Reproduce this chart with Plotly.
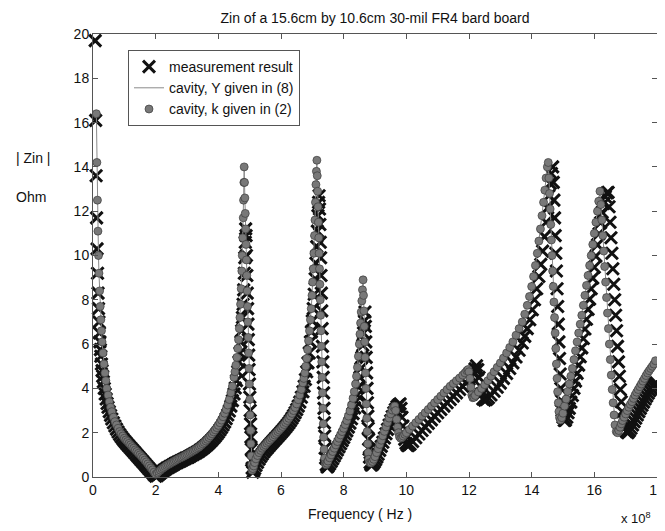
import plotly.graph_objects as go

# Frequency in units of 1e8 Hz, |Zin| in Ohm
meas_points = [
(0.07,19.7),(0.085,16.1),(0.1,13.6),(0.115,11.7),(0.13,10.3),(0.145,9.2),(0.16,8.3),(0.175,7.6),(0.19,7.0),(0.205,6.5),(0.22,6.1),(0.235,5.75),(0.25,5.45),(0.27,5.1),(0.29,4.8),(0.31,4.55),(0.33,4.3),(0.36,4.0),(0.39,3.75),(0.42,3.52),(0.45,3.32),(0.48,3.15),(0.52,2.95),(0.56,2.78),(0.6,2.62),(0.65,2.45),(0.7,2.3),(0.75,2.16),(0.8,2.03),(0.85,1.92),(0.9,1.82),(0.95,1.72),(1.0,1.63),(1.05,1.55),(1.1,1.47),(1.15,1.39),(1.2,1.31),(1.25,1.23),(1.3,1.15),(1.35,1.07),(1.4,0.99),(1.45,0.91),(1.5,0.83),(1.55,0.75),(1.6,0.67),(1.65,0.59),(1.7,0.51),(1.75,0.43),(1.8,0.35),(1.85,0.27),(1.9,0.19),(1.95,0.1),(2.0,0.04),
(2.05,0.06),(2.1,0.12),(2.15,0.18),(2.2,0.24),(2.25,0.29),(2.3,0.34),(2.35,0.39),(2.4,0.43),(2.45,0.47),(2.5,0.51),(2.55,0.55),(2.6,0.59),(2.65,0.63),(2.7,0.66),(2.75,0.7),(2.8,0.73),(2.85,0.77),(2.9,0.8),(2.95,0.84),(3.0,0.87),(3.05,0.9),(3.1,0.94),(3.15,0.98),(3.2,1.02),(3.25,1.06),(3.3,1.1),(3.35,1.14),(3.4,1.19),(3.45,1.24),(3.5,1.29),(3.55,1.35),(3.6,1.41),(3.65,1.47),(3.7,1.54),(3.75,1.61),(3.8,1.68),(3.85,1.76),(3.9,1.84),(3.95,1.93),(4.0,2.02),(4.05,2.12),(4.1,2.23),(4.15,2.35),(4.2,2.48),(4.25,2.63),(4.3,2.8),(4.35,2.98),(4.4,3.2),(4.45,3.45),(4.5,3.75),(4.54,4.02),(4.58,4.35),(4.62,4.75),(4.66,5.2),(4.69,5.6),(4.72,6.1),(4.745,6.6),(4.77,7.2),(4.79,7.8),(4.81,8.45),(4.83,9.2),(4.845,9.9),(4.86,10.6),(4.872,11.2),
(4.885,10.9),(4.897,10.0),(4.909,9.1),(4.921,8.3),(4.933,7.6),(4.945,6.9),(4.957,6.2),(4.969,5.5),(4.981,4.85),(4.993,4.2),(5.005,3.6),(5.017,3.0),(5.029,2.4),(5.041,1.8),(5.053,1.25),(5.065,0.75),(5.08,0.4),(5.1,0.22),(5.13,0.28),
(5.16,0.38),(5.2,0.52),(5.25,0.66),(5.3,0.8),(5.35,0.92),(5.4,1.03),(5.45,1.13),(5.5,1.22),(5.55,1.3),(5.6,1.38),(5.65,1.46),(5.7,1.54),(5.75,1.62),(5.8,1.7),(5.85,1.77),(5.9,1.85),(5.95,1.93),(6.0,2.01),(6.05,2.09),(6.1,2.17),(6.15,2.26),(6.2,2.35),(6.25,2.44),(6.3,2.54),(6.35,2.65),(6.4,2.77),(6.45,2.9),(6.5,3.04),(6.55,3.2),(6.6,3.38),(6.65,3.6),(6.7,3.85),(6.74,4.1),(6.78,4.4),(6.82,4.75),(6.86,5.15),(6.9,5.6),(6.94,6.1),(6.97,6.55),(7.0,7.05),(7.03,7.6),(7.06,8.25),(7.09,8.95),(7.115,9.65),(7.14,10.4),(7.16,11.1),(7.18,11.8),(7.2,12.4),(7.215,12.7),
(7.228,12.1),(7.24,11.4),(7.252,10.6),(7.264,9.9),(7.276,9.1),(7.288,8.3),(7.3,7.5),(7.312,6.7),(7.324,5.9),(7.336,5.2),(7.348,4.5),(7.36,3.8),(7.372,3.1),(7.384,2.45),(7.396,1.85),(7.41,1.3),(7.425,0.85),(7.445,0.55),(7.47,0.45),(7.5,0.48),
(7.55,0.58),(7.6,0.7),(7.65,0.82),(7.7,0.95),(7.75,1.08),(7.8,1.22),(7.85,1.36),(7.9,1.5),(7.95,1.64),(8.0,1.78),(8.05,1.93),(8.1,2.08),(8.15,2.25),(8.2,2.43),(8.25,2.63),(8.3,2.86),(8.35,3.12),(8.4,3.42),(8.44,3.7),(8.48,4.05),(8.52,4.5),(8.55,4.9),(8.58,5.4),(8.61,5.95),(8.635,6.5),(8.66,7.05),(8.68,7.45),
(8.693,6.8),(8.706,6.1),(8.719,5.4),(8.732,4.7),(8.745,4.0),(8.758,3.35),(8.771,2.75),(8.784,2.2),(8.797,1.7),(8.81,1.25),(8.825,0.9),(8.845,0.65),(8.87,0.55),(8.9,0.55),
(8.94,0.6),(8.98,0.68),(9.02,0.78),(9.06,0.9),(9.1,1.03),(9.15,1.2),(9.2,1.38),(9.25,1.57),(9.3,1.76),(9.35,1.95),(9.4,2.15),(9.45,2.35),(9.5,2.54),(9.55,2.73),(9.6,2.9),(9.65,3.05),(9.7,3.17),(9.75,3.25),(9.8,3.3),(9.83,3.1),(9.86,2.7),(9.89,2.3),(9.92,1.95),(9.95,1.7),(9.99,1.52),(10.03,1.43),(10.07,1.42),(10.12,1.48),(10.2,1.6),(10.3,1.77),(10.4,1.94),(10.5,2.1),(10.6,2.26),(10.7,2.42),(10.8,2.58),(10.9,2.74),(11.0,2.9),(11.1,3.05),(11.2,3.2),(11.3,3.35),(11.4,3.5),(11.5,3.65),(11.6,3.8),(11.7,3.95),(11.8,4.1),(11.9,4.25),(12.0,4.4),(12.07,4.55),(12.13,4.7),(12.19,4.88),(12.24,5.02),(12.28,4.85),(12.32,4.5),(12.36,4.1),(12.4,3.75),(12.44,3.52),(12.5,3.47),(12.56,3.5),(12.62,3.58),(12.7,3.7),(12.8,3.87),(12.9,4.05),(13.0,4.24),(13.1,4.45),(13.2,4.67),(13.3,4.9),(13.4,5.15),(13.5,5.42),(13.6,5.72),(13.7,6.05),(13.78,6.35),(13.86,6.7),(13.94,7.1),(14.02,7.55),(14.09,8.0),(14.16,8.5),(14.23,9.05),(14.29,9.6),(14.35,10.2),(14.41,10.85),(14.46,11.5),(14.51,12.15),(14.55,12.7),(14.59,13.25),(14.63,13.7),(14.67,14.0),
(14.69,13.3),(14.71,12.5),(14.73,11.7),(14.75,10.9),(14.77,10.1),(14.79,9.3),(14.81,8.5),(14.83,7.7),(14.85,6.9),(14.87,6.1),(14.89,5.35),(14.91,4.65),(14.93,4.0),(14.95,3.45),(14.97,3.0),(15.0,2.7),(15.04,2.55),(15.08,2.57),
(15.12,2.7),(15.16,2.9),(15.2,3.1),(15.25,3.38),(15.3,3.68),(15.35,4.0),(15.4,4.33),(15.45,4.68),(15.5,5.05),(15.55,5.43),(15.6,5.83),(15.65,6.25),(15.7,6.68),(15.75,7.12),(15.8,7.57),(15.85,8.03),(15.9,8.5),(15.95,8.98),(16.0,9.47),(16.05,9.97),(16.1,10.48),(16.15,10.98),(16.2,11.48),(16.25,11.95),(16.3,12.35),(16.35,12.65),(16.4,12.82),(16.44,12.85),
(16.47,12.2),(16.5,11.5),(16.53,10.8),(16.56,10.1),(16.59,9.4),(16.62,8.7),(16.65,8.0),(16.68,7.3),(16.71,6.6),(16.74,5.9),(16.77,5.2),(16.8,4.55),(16.83,3.95),(16.86,3.4),(16.89,2.95),(16.93,2.55),(16.97,2.25),(17.02,2.05),(17.07,2.0),
(17.12,2.08),(17.17,2.2),(17.22,2.35),(17.27,2.5),(17.32,2.65),(17.37,2.8),(17.42,2.95),(17.47,3.1),(17.52,3.24),(17.57,3.38),(17.62,3.52),(17.67,3.65),(17.72,3.78),(17.77,3.9),(17.82,4.0),(17.87,4.1),(17.92,4.18),(17.97,4.25),
]

cav_k_points = [
(0.107,16.4),(0.124,14.2),(0.141,12.5),(0.158,11.1),(0.175,10.0),(0.19,9.2),(0.21,8.4),(0.23,7.7),(0.25,7.1),(0.27,6.6),(0.29,6.1),(0.32,5.6),(0.35,5.1),(0.38,4.7),(0.41,4.35),(0.44,4.0),(0.48,3.7),(0.52,3.4),(0.56,3.15),(0.6,2.95),(0.65,2.7),(0.7,2.5),(0.75,2.35),(0.8,2.2),(0.85,2.05),(0.9,1.95),(0.95,1.85),(1.0,1.75),(1.05,1.67),(1.1,1.6),(1.15,1.52),(1.2,1.45),(1.25,1.37),(1.3,1.3),(1.35,1.22),(1.4,1.15),(1.45,1.07),(1.5,1.0),(1.55,0.92),(1.6,0.85),(1.65,0.76),(1.7,0.68),(1.75,0.59),(1.8,0.5),(1.85,0.41),(1.9,0.32),(1.95,0.22),(2.0,0.12),
(2.05,0.18),(2.1,0.25),(2.15,0.31),(2.2,0.37),(2.25,0.42),(2.3,0.47),(2.35,0.52),(2.4,0.56),(2.45,0.6),(2.5,0.64),(2.55,0.68),(2.6,0.72),(2.65,0.76),(2.7,0.8),(2.75,0.84),(2.8,0.87),(2.85,0.9),(2.9,0.94),(2.95,0.98),(3.0,1.02),(3.05,1.06),(3.1,1.1),(3.15,1.14),(3.2,1.18),(3.25,1.22),(3.3,1.27),(3.35,1.32),(3.4,1.37),(3.45,1.43),(3.5,1.5),(3.55,1.56),(3.6,1.63),(3.65,1.7),(3.7,1.78),(3.75,1.86),(3.8,1.95),(3.85,2.04),(3.9,2.13),(3.95,2.23),(4.0,2.33),(4.05,2.45),(4.1,2.57),(4.15,2.72),(4.2,2.88),(4.25,3.05),(4.3,3.25),(4.35,3.5),(4.4,3.8),(4.45,4.1),(4.5,4.5),(4.53,4.75),(4.56,5.05),(4.59,5.4),(4.62,5.8),(4.645,6.2),(4.67,6.7),(4.69,7.2),(4.71,7.8),(4.73,8.5),(4.75,9.3),(4.765,10.0),(4.78,10.8),(4.795,11.7),(4.805,12.5),(4.815,13.3),(4.825,14.0),
(4.835,13.3),(4.847,12.6),(4.859,11.9),(4.871,11.2),(4.883,10.5),(4.895,9.8),(4.907,9.1),(4.919,8.4),(4.931,7.7),(4.943,7.0),(4.955,6.3),(4.967,5.6),(4.979,4.9),(4.991,4.2),(5.003,3.5),(5.015,2.8),(5.027,2.1),(5.039,1.5),(5.051,0.95),(5.063,0.55),(5.075,0.3),
(5.1,0.38),(5.13,0.5),(5.16,0.65),(5.2,0.82),(5.25,0.97),(5.3,1.1),(5.35,1.2),(5.4,1.3),(5.45,1.38),(5.5,1.45),(5.55,1.53),(5.6,1.6),(5.65,1.67),(5.7,1.75),(5.75,1.82),(5.8,1.9),(5.85,1.97),(5.9,2.05),(5.95,2.12),(6.0,2.2),(6.05,2.28),(6.1,2.37),(6.15,2.46),(6.2,2.55),(6.25,2.65),(6.3,2.75),(6.35,2.87),(6.4,3.0),(6.45,3.14),(6.5,3.3),(6.55,3.49),(6.6,3.7),(6.65,3.95),(6.7,4.25),(6.73,4.45),(6.76,4.7),(6.79,5.0),(6.82,5.35),(6.85,5.75),(6.88,6.15),(6.91,6.6),(6.94,7.1),(6.965,7.6),(6.99,8.2),(7.01,8.8),(7.03,9.4),(7.05,10.1),(7.07,10.9),(7.085,11.6),(7.1,12.4),(7.115,13.2),(7.13,13.8),(7.145,14.3),
(7.157,13.6),(7.169,12.9),(7.181,12.2),(7.193,11.5),(7.205,10.8),(7.217,10.1),(7.229,9.4),(7.241,8.7),(7.253,8.0),(7.265,7.3),(7.277,6.6),(7.289,5.9),(7.301,5.2),(7.313,4.5),(7.325,3.8),(7.337,3.1),(7.349,2.4),(7.361,1.8),(7.375,1.25),(7.39,0.85),(7.41,0.6),(7.44,0.55),
(7.47,0.62),(7.5,0.72),(7.55,0.87),(7.6,1.0),(7.65,1.15),(7.7,1.3),(7.75,1.45),(7.8,1.6),(7.85,1.75),(7.9,1.9),(7.95,2.05),(8.0,2.2),(8.05,2.37),(8.1,2.55),(8.15,2.75),(8.2,2.98),(8.25,3.25),(8.3,3.55),(8.34,3.85),(8.38,4.2),(8.41,4.55),(8.44,4.95),(8.47,5.45),(8.5,6.0),(8.52,6.45),(8.54,6.95),(8.56,7.45),(8.58,7.95),(8.6,8.45),(8.62,8.9),
(8.633,8.2),(8.646,7.5),(8.659,6.8),(8.672,6.1),(8.685,5.4),(8.698,4.7),(8.711,4.0),(8.724,3.3),(8.737,2.65),(8.75,2.05),(8.765,1.5),(8.78,1.1),(8.8,0.8),(8.83,0.65),(8.87,0.63),
(8.92,0.7),(8.96,0.8),(9.0,0.92),(9.05,1.1),(9.1,1.28),(9.15,1.47),(9.2,1.66),(9.25,1.86),(9.3,2.06),(9.35,2.26),(9.4,2.46),(9.45,2.66),(9.5,2.85),(9.55,3.02),(9.6,3.15),(9.63,3.2),(9.66,3.0),(9.69,2.6),(9.72,2.25),(9.75,2.0),(9.78,1.82),(9.82,1.75),(9.86,1.78),(9.9,1.85),(9.95,1.93),(10.0,2.0),(10.1,2.15),(10.2,2.3),(10.3,2.45),(10.4,2.6),(10.5,2.75),(10.6,2.9),(10.7,3.05),(10.8,3.2),(10.9,3.35),(11.0,3.5),(11.1,3.65),(11.2,3.8),(11.3,3.95),(11.4,4.1),(11.5,4.22),(11.6,4.35),(11.7,4.47),(11.8,4.6),(11.87,4.7),(11.93,4.8),(11.97,4.85),(12.0,4.75),(12.03,4.45),(12.06,4.05),(12.09,3.7),(12.12,3.58),(12.16,3.6),(12.2,3.68),(12.3,3.84),(12.4,4.0),(12.5,4.17),(12.6,4.35),(12.7,4.55),(12.8,4.75),(12.9,4.95),(13.0,5.15),(13.1,5.37),(13.2,5.6),(13.3,5.85),(13.4,6.1),(13.5,6.4),(13.6,6.7),(13.7,7.0),(13.78,7.35),(13.86,7.75),(13.93,8.15),(14.0,8.6),(14.06,9.05),(14.12,9.55),(14.18,10.1),(14.23,10.65),(14.28,11.2),(14.33,11.8),(14.38,12.4),(14.42,12.95),(14.46,13.5),(14.5,14.0),(14.53,14.2),
(14.55,13.5),(14.57,12.8),(14.59,12.1),(14.61,11.4),(14.63,10.7),(14.65,10.0),(14.67,9.3),(14.69,8.6),(14.71,7.9),(14.73,7.2),(14.75,6.5),(14.77,5.8),(14.79,5.1),(14.81,4.45),(14.83,3.85),(14.85,3.35),(14.87,2.95),(14.89,2.68),(14.92,2.57),
(14.96,2.68),(15.0,2.88),(15.05,3.2),(15.1,3.52),(15.15,3.86),(15.2,4.2),(15.25,4.55),(15.3,4.9),(15.35,5.3),(15.4,5.7),(15.45,6.1),(15.5,6.5),(15.55,6.9),(15.6,7.3),(15.65,7.75),(15.7,8.2),(15.75,8.65),(15.8,9.1),(15.85,9.55),(15.9,10.0),(15.95,10.5),(16.0,11.0),(16.05,11.5),(16.1,12.0),(16.14,12.45),(16.18,12.9),
(16.21,12.3),(16.24,11.6),(16.27,10.9),(16.3,10.2),(16.33,9.5),(16.36,8.8),(16.39,8.1),(16.42,7.4),(16.45,6.7),(16.48,6.0),(16.51,5.3),(16.54,4.6),(16.57,3.95),(16.6,3.35),(16.63,2.8),(16.66,2.35),(16.7,2.05),(16.74,2.0),
(16.78,2.1),(16.82,2.25),(16.86,2.4),(16.9,2.55),(16.95,2.7),(17.0,2.85),(17.05,3.0),(17.1,3.15),(17.15,3.28),(17.2,3.4),(17.25,3.55),(17.3,3.7),(17.35,3.83),(17.4,3.95),(17.45,4.08),(17.5,4.2),(17.55,4.33),(17.6,4.45),(17.65,4.58),(17.7,4.7),(17.75,4.8),(17.8,4.9),(17.85,5.0),(17.9,5.1),(17.95,5.25),
]

# the Y-model line coincides with the k-model at this scale
cav_y_points = list(cav_k_points)

x_ticks = [0, 2, 4, 6, 8, 10, 12, 14, 16, 18]
y_ticks = [0, 2, 4, 6, 8, 10, 12, 14, 16, 18, 20]

meas_f = [p[0] for p in meas_points]
meas_z = [p[1] for p in meas_points]
cav_k_f = [p[0] for p in cav_k_points]
cav_k_z = [p[1] for p in cav_k_points]
cav_y_f = [p[0] for p in cav_y_points]
cav_y_z = [p[1] for p in cav_y_points]

FONT = "Arial, Liberation Sans, Helvetica, sans-serif"

fig = go.Figure()
fig.add_trace(go.Scatter(
    x=meas_f, y=meas_z, mode="markers", name="measurement result",
    marker=dict(symbol="x-thin", size=12, color="#111111",
                line=dict(width=3, color="#111111")),
    cliponaxis=False))
fig.add_trace(go.Scatter(
    x=cav_y_f, y=cav_y_z, mode="lines", name="cavity, Y given in (8)",
    line=dict(color="#8a8a8a", width=1), cliponaxis=False))
fig.add_trace(go.Scatter(
    x=cav_k_f, y=cav_k_z, mode="markers", name="cavity, k given in (2)",
    marker=dict(symbol="circle", size=8, color="#787878",
                line=dict(width=0.7, color="#3c3c3c")),
    cliponaxis=False))

# page body has an 8px margin: target picture coordinates are shifted by that
OFF = 8
W, H = 665 - OFF, 531 - OFF
PL, PR, PT, PB = 93, 657, 34, 477          # plot box in picture pixels
L, R, T, B = PL - OFF, W - (PR - OFF), PT - OFF, H - (PB - OFF)
pw, ph = PR - PL, PB - PT

def px(xp):
    return (xp - PL) / pw

def py(yp):
    return (PB - yp) / ph

axis_common = dict(showline=True, linecolor="#555555", linewidth=1, mirror="ticks",
                   ticks="inside", ticklen=5, tickcolor="#555555", showgrid=False,
                   zeroline=False, tickfont=dict(family=FONT, size=14, color="#111111"))

fig.update_layout(
    width=W, height=H,
    margin=dict(l=L, r=R, t=T, b=B, autoexpand=False),
    paper_bgcolor="white", plot_bgcolor="white",
    title=dict(text="Zin of a 15.6cm by 10.6cm 30-mil FR4 bard board",
               x=0.5, xref="paper", y=1 - (18 - OFF) / H, yref="container",
               xanchor="center", yanchor="middle",
               font=dict(family=FONT, size=14, color="#111111")),
    xaxis=dict(range=[0, 18], tickvals=x_ticks, ticktext=[str(v) for v in x_ticks], **axis_common),
    yaxis=dict(range=[0, 20], tickvals=y_ticks, ticktext=[str(v) for v in y_ticks], **axis_common),
    legend=dict(x=px(128), y=py(50), xanchor="left", yanchor="top",
                bgcolor="white", bordercolor="#555555", borderwidth=1,
                font=dict(family=FONT, size=14, color="#111111"),
                tracegroupgap=0, itemwidth=30),
    showlegend=True,
    annotations=[
        dict(text="Frequency ( Hz )", x=px(360), y=py(514), xref="paper", yref="paper",
             xanchor="center", yanchor="middle", showarrow=False,
             font=dict(family=FONT, size=14, color="#111111")),
        dict(text="x 10<sup>8</sup>", x=px(653), y=py(518), xref="paper", yref="paper",
             xanchor="right", yanchor="middle", showarrow=False,
             font=dict(family=FONT, size=13, color="#111111")),
        dict(text="| Zin |", x=px(14), y=py(158), xref="paper", yref="paper",
             xanchor="left", yanchor="middle", showarrow=False,
             font=dict(family=FONT, size=14, color="#111111")),
        dict(text="Ohm", x=px(14), y=py(197), xref="paper", yref="paper",
             xanchor="left", yanchor="middle", showarrow=False,
             font=dict(family=FONT, size=14, color="#111111")),
    ],
)

fig.write_html("out.html")
